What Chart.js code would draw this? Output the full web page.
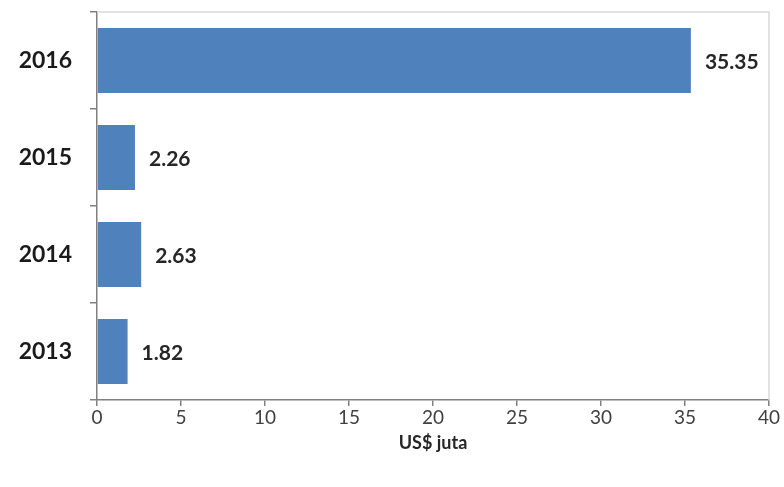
<!DOCTYPE html>
<html>
<head>
<meta charset="utf-8">
<script src="https://cdn.jsdelivr.net/npm/chart.js@4/dist/chart.umd.min.js"></script>
<style>
  html, body { margin: 0; padding: 0; background: #fff; }
  #wrap { width: 784px; height: 487px; }
</style>
</head>
<body>
<div id="wrap"><canvas id="barChart"></canvas></div>
<script>
// Données
const years = ['2016', '2015', '2014', '2013'];
const values = [35.35, 2.26, 2.63, 1.82];
const valueLabels = ['35.35', '2.26', '2.63', '1.82'];
const xTicks = [0, 5, 10, 15, 20, 25, 30, 35, 40];
const axisTitle = 'US$ juta';

const barColor = '#4f81bd';
const fontFamily = "'Lato', 'Open Sans', 'Liberation Sans', sans-serif";

// Cadre gris clair autour de la zone de tracé
const frame = {
    id: 'frame',
    beforeDatasetsDraw(chart) {
        const { ctx, chartArea: a } = chart;
        ctx.save();
        ctx.strokeStyle = '#d9d9d9';
        ctx.lineWidth = 1.5;
        ctx.beginPath();
        ctx.moveTo(a.left, a.top);
        ctx.lineTo(a.right, a.top);
        ctx.lineTo(a.right, a.bottom);
        ctx.stroke();
        ctx.restore();
    }
};

// Étiquettes de valeur à droite des barres
const barValues = {
    id: 'barValues',
    afterDatasetsDraw(chart) {
        const { ctx } = chart;
        const meta = chart.getDatasetMeta(0);
        ctx.save();
        ctx.font = 'bold 21px ' + fontFamily;
        ctx.fillStyle = '#262626';
        ctx.textBaseline = 'middle';
        ctx.textAlign = 'left';
        meta.data.forEach((bar, i) => {
            ctx.fillText(valueLabels[i], bar.x + 14, bar.y + 2);
        });
        ctx.restore();
    }
};

new Chart(document.getElementById('barChart'), {
    type: 'bar',
    data: {
        labels: years,
        datasets: [{
            data: values,
            backgroundColor: barColor,
            borderWidth: 0,
            barPercentage: 0.67,
            categoryPercentage: 1
        }]
    },
    options: {
        indexAxis: 'y',
        responsive: true,
        maintainAspectRatio: false,
        animation: false,
        layout: { padding: { top: 12, right: 15, bottom: 33, left: 0 } },
        plugins: {
            legend: { display: false },
            tooltip: { enabled: false }
        },
        scales: {
            x: {
                min: 0,
                max: 40,
                afterBuildTicks(scale) {
                    scale.ticks = xTicks.map(v => ({ value: v }));
                },
                afterFit(scale) { scale.height = 54; },
                grid: {
                    drawOnChartArea: false,
                    color: '#808080',
                    tickLength: 6,
                    lineWidth: 1.5
                },
                border: { color: '#808080', width: 1.5 },
                ticks: {
                    color: '#404040',
                    font: { family: fontFamily, size: 19 },
                    padding: 0
                },
                title: {
                    display: true,
                    text: axisTitle,
                    color: '#262626',
                    font: { family: fontFamily, size: 18, weight: 'bold' },
                    padding: { top: 4, bottom: 0 }
                }
            },
            y: {
                afterFit(scale) {
                    scale.width = 97;
                    scale.paddingTop = 0;
                    scale.paddingBottom = 0;
                },
                grid: {
                    drawOnChartArea: false,
                    offset: true,
                    color: '#808080',
                    tickLength: 7,
                    lineWidth: 1.5
                },
                border: { color: '#808080', width: 1.5 },
                ticks: {
                    color: '#1a1a1a',
                    font: { family: fontFamily, size: 23, weight: 'bold' },
                    padding: 18
                }
            }
        }
    },
    plugins: [frame, barValues]
});
</script>
</body>
</html>
